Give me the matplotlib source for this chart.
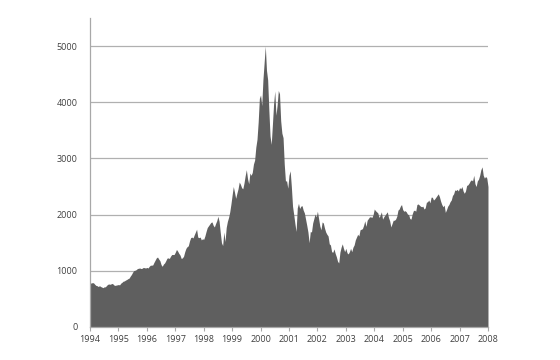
import numpy as np
import matplotlib
matplotlib.use("Agg")
import matplotlib.pyplot as plt

# index level, two readings per month (mid / end)
years = list(range(1994, 2008))
v1994 = [790, 780, 790, 785, 760, 740, 735, 720, 735, 720, 710, 700, 715, 715, 740, 760, 765, 760, 770, 775, 750, 740, 745, 750]
v1995 = [755, 750, 780, 795, 815, 820, 835, 845, 860, 870, 905, 935, 975, 1005, 1010, 1020, 1040, 1045, 1050, 1040, 1045, 1060, 1055, 1050]
v1996 = [1060, 1050, 1080, 1100, 1100, 1105, 1150, 1190, 1230, 1245, 1210, 1180, 1110, 1080, 1120, 1140, 1180, 1225, 1230, 1220, 1260, 1290, 1290, 1290]
v1997 = [1330, 1380, 1350, 1310, 1280, 1220, 1230, 1260, 1340, 1400, 1430, 1445, 1530, 1590, 1600, 1585, 1640, 1690, 1740, 1600, 1590, 1600, 1550, 1570]
v1998 = [1560, 1620, 1700, 1770, 1800, 1830, 1860, 1870, 1810, 1780, 1840, 1890, 1970, 1880, 1680, 1500, 1450, 1690, 1520, 1770, 1880, 1950, 2050, 2190]
v1999 = [2350, 2500, 2400, 2290, 2380, 2460, 2580, 2540, 2480, 2460, 2560, 2690, 2800, 2640, 2550, 2740, 2700, 2750, 2900, 2970, 3200, 3340, 3650, 4069]
v2000 = [4130, 3940, 4400, 4700, 5000, 4570, 4400, 3860, 3400, 3250, 3600, 3970, 4200, 3770, 3950, 4210, 4150, 3670, 3450, 3370, 2900, 2600, 2600, 2470]
v2001 = [2700, 2780, 2500, 2150, 2000, 1840, 1700, 2120, 2200, 2110, 2150, 2160, 2080, 2030, 1920, 1810, 1690, 1500, 1700, 1690, 1850, 1930, 2010, 1960]
v2002 = [2060, 1930, 1800, 1730, 1870, 1850, 1760, 1690, 1650, 1620, 1480, 1460, 1340, 1330, 1390, 1310, 1250, 1170, 1140, 1330, 1420, 1480, 1400, 1340]
v2003 = [1400, 1320, 1300, 1340, 1400, 1340, 1420, 1460, 1550, 1600, 1650, 1620, 1730, 1740, 1750, 1810, 1890, 1790, 1900, 1930, 1960, 1960, 1950, 2000]
v2004 = [2100, 2070, 2050, 2030, 1950, 1990, 2050, 1920, 1960, 1990, 2020, 2050, 1950, 1890, 1780, 1840, 1900, 1900, 1920, 1970, 2080, 2100, 2150, 2180]
v2005 = [2090, 2060, 2070, 2050, 2010, 2000, 1930, 1920, 2010, 2070, 2080, 2060, 2180, 2190, 2170, 2150, 2140, 2150, 2100, 2120, 2220, 2230, 2260, 2210]
v2006 = [2310, 2310, 2260, 2280, 2310, 2340, 2370, 2320, 2240, 2180, 2140, 2170, 2040, 2090, 2150, 2180, 2230, 2260, 2340, 2370, 2440, 2430, 2450, 2420]
v2007 = [2480, 2460, 2500, 2420, 2380, 2420, 2520, 2530, 2560, 2600, 2620, 2600, 2700, 2550, 2500, 2600, 2630, 2700, 2800, 2850, 2700, 2650, 2680, 2650]
v_end = 2500  # value at the start of 2008

all_years = [v1994, v1995, v1996, v1997, v1998, v1999, v2000,
             v2001, v2002, v2003, v2004, v2005, v2006, v2007]

t, vals = [], []
for y, vs in zip(years, all_years):
    for k, v in enumerate(vs):
        t.append(y + k / 24)
        vals.append(v)
t.append(2008)
vals.append(v_end)

plt.rcParams["font.family"] = ["Open Sans", "DejaVu Sans"]

fig = plt.figure(figsize=(5.6, 3.6), dpi=100)
ax = fig.add_axes([0.1607, 0.0917, 0.7107, 0.8583])

ax.fill_between(t, vals, 0, color="#5f5f5f", linewidth=0)
ax.set_xlim(1994, 2008)
ax.set_ylim(0, 5500)
ax.set_xticks(range(1994, 2009))
ax.set_yticks(range(0, 5001, 1000))
ax.grid(axis="y", color="#b0b0b0", linewidth=0.9)
ax.set_axisbelow(True)

for s in ("top", "right"):
    ax.spines[s].set_visible(False)
for s in ("left", "bottom"):
    ax.spines[s].set_color("#a8a8a8")
    ax.spines[s].set_linewidth(0.9)

ax.tick_params(axis="x", length=3, color="#a8a8a8", labelsize=6.5, labelcolor="#404040", pad=3)
ax.tick_params(axis="y", length=0, labelsize=6.5, labelcolor="#404040", pad=9)

plt.savefig("out.png", dpi=100)
